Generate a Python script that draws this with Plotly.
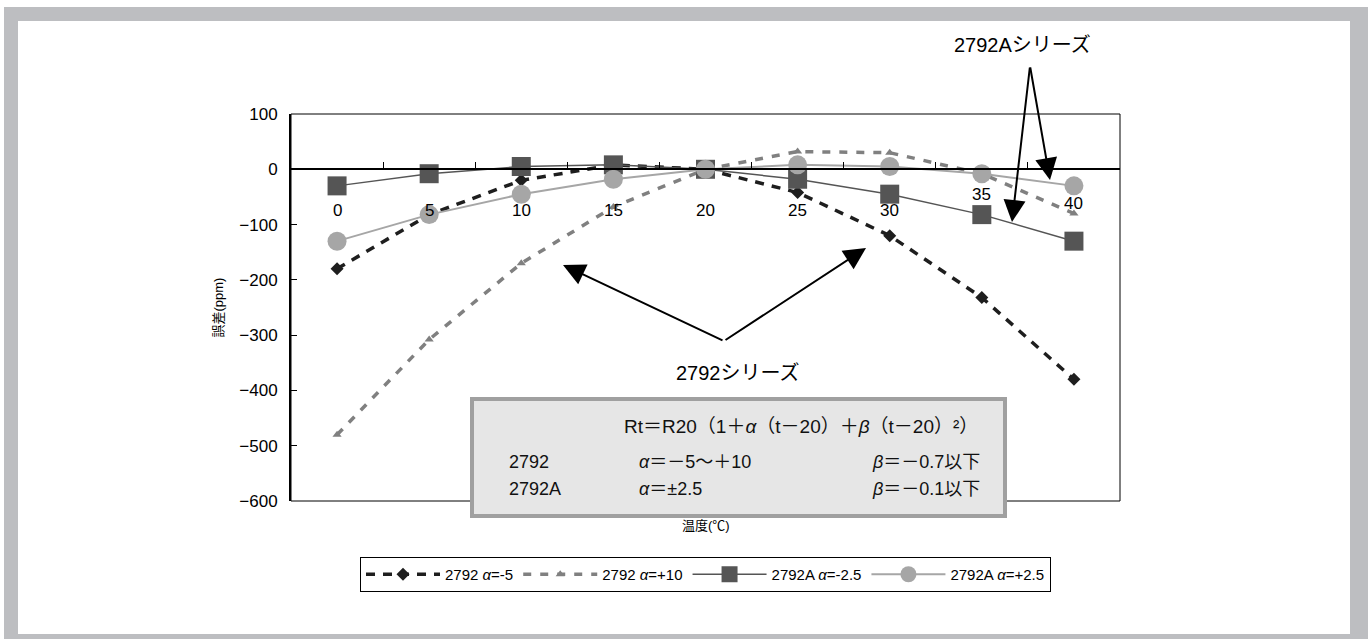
import plotly.graph_objects as go

# ---- data ----
temps = ["0", "5", "10", "15", "20", "25", "30", "35", "40"]
s2792_m5 = [-180, -82, -20, 8, 0, -42, -120, -232, -380]
s2792_p10 = [-480, -308, -170, -68, 0, 32, 30, -8, -80]
s2792A_m25 = [-30, -8, 5, 8, 0, -18, -45, -82, -130]
s2792A_p25 = [-130, -82, -45, -18, 0, 8, 5, -8, -30]
y_tickvals = [100, 0, -100, -200, -300, -400, -500, -600]
series_names = ["2792 <i>α</i>=-5", "2792 <i>α</i>=+10",
                "2792A <i>α</i>=-2.5", "2792A <i>α</i>=+2.5"]

FONT = "Liberation Sans, Arial, Noto Sans CJK JP, sans-serif"
W, H = 1368, 639
L, R, T, B = 291, 1120, 114, 501   # plot area in pixels


def px(x):
    return (x - L) / (R - L)


def py(y):
    return (B - y) / (B - T)


fig = go.Figure()
fig.add_trace(go.Scatter(
    x=temps, y=s2792_m5, name=series_names[0], mode="lines+markers",
    line=dict(color="#1e1e1e", width=3.5, dash="9px,8px"),
    marker=dict(symbol="diamond", size=10, color="#1e1e1e")))
fig.add_trace(go.Scatter(
    x=temps, y=s2792_p10, name=series_names[1], mode="lines+markers",
    line=dict(color="#808080", width=3.5, dash="8px,9px"),
    marker=dict(symbol="triangle-up", size=8, color="#808080")))
fig.add_trace(go.Scatter(
    x=temps, y=s2792A_m25, name=series_names[2], mode="lines+markers",
    line=dict(color="#555555", width=1.5),
    marker=dict(symbol="square", size=19, color="#555555")))
fig.add_trace(go.Scatter(
    x=temps, y=s2792A_p25, name=series_names[3], mode="lines+markers",
    line=dict(color="#a6a6a6", width=2),
    marker=dict(symbol="circle", size=19, color="#a6a6a6")))

annotations = []
# x tick labels (placed under the zero line like the reference)
label_shift = {"35": -25, "40": -34}
for i, t in enumerate(temps):
    annotations.append(dict(x=i, y=0, xref="x", yref="y", text=t, showarrow=False,
                            xanchor="center", yanchor="middle",
                            yshift=label_shift.get(t, -41),
                            font=dict(size=17, color="black", family=FONT)))

# axis titles
annotations.append(dict(x=px(218), y=0.5, xref="paper", yref="paper", text="誤差(ppm)",
                        textangle=-90, showarrow=False, xanchor="center", yanchor="middle",
                        font=dict(size=13, family=FONT, color="black")))
annotations.append(dict(x=0.5, y=py(525), xref="paper", yref="paper", text="温度(℃)",
                        showarrow=False, xanchor="center", yanchor="middle",
                        font=dict(size=13, family=FONT, color="black")))

# series labels with arrows
annotations.append(dict(x=px(738), y=py(373), xref="paper", yref="paper",
                        text="2792シリーズ", showarrow=False, xanchor="center", yanchor="middle",
                        font=dict(size=20, family=FONT, color="black")))
annotations.append(dict(x=px(1022), y=py(45), xref="paper", yref="paper",
                        text="2792Aシリーズ", showarrow=False, xanchor="center", yanchor="middle",
                        font=dict(size=20, family=FONT, color="black")))
arrow_defs = [((563, 265), (724, 341)), ((866, 248), (724, 341)),
              ((1012, 222), (1030, 66)), ((1050, 180), (1030, 66))]
for (tx, ty), (sx, sy) in arrow_defs:
    annotations.append(dict(x=px(tx), y=py(ty), xref="paper", yref="paper", text="",
                            showarrow=True, ax=sx - tx, ay=sy - ty, arrowhead=2,
                            arrowsize=2.2, arrowwidth=2, arrowcolor="black", standoff=0))

# formula box text
box_lines = [
    (622, 426, "Rt＝R20（1＋<i>α</i>（t－20）＋<i>β</i>（t－20）²）", 19),
    (507, 462, "2792", 18), (637, 462, "<i>α</i>＝－5〜＋10", 18), (870, 462, "<i>β</i>＝－0.7以下", 18),
    (507, 489, "2792A", 18), (637, 489, "<i>α</i>＝±2.5", 18), (870, 489, "<i>β</i>＝－0.1以下", 18),
]
for x0, y0, txt, fs in box_lines:
    annotations.append(dict(x=px(x0), y=py(y0), xref="paper", yref="paper", text=txt,
                            xanchor="left", yanchor="middle", showarrow=False,
                            font=dict(size=fs, family=FONT, color="#111111")))

shapes = [
    # outer gray frame
    dict(type="rect", xref="paper", yref="paper", x0=px(4), x1=px(1372), y0=py(643), y1=py(7),
         fillcolor="#bdbec1", line=dict(width=0), layer="below"),
    dict(type="rect", xref="paper", yref="paper", x0=px(18), x1=px(1350), y0=py(634), y1=py(21),
         fillcolor="white", line=dict(width=0), layer="below"),
    # plot frame
    dict(type="rect", xref="paper", yref="paper", x0=0, x1=1, y0=0, y1=1,
         line=dict(color="black", width=1), layer="above"),
    # formula box
    dict(type="rect", xref="paper", yref="paper", x0=px(472), x1=px(1005), y0=py(516), y1=py(399),
         fillcolor="#e6e6e6", line=dict(color="#a0a0a0", width=4), layer="above"),
]

fig.update_layout(
    width=W, height=H,
    margin=dict(l=L, r=W - R, t=T, b=H - B, pad=0),
    paper_bgcolor="white", plot_bgcolor="white",
    font=dict(family=FONT, color="black"),
    showlegend=True,
    legend=dict(orientation="h", x=0.5, xanchor="center", y=py(557), yanchor="top",
                bordercolor="black", borderwidth=1, bgcolor="white",
                font=dict(size=15, family=FONT), itemwidth=74),
    xaxis=dict(type="category", categoryorder="array", categoryarray=temps,
               range=[-0.5, 8.5], anchor="free", position=6 / 7,
               showline=True, linecolor="black", linewidth=1.5,
               ticks="inside", tickson="boundaries", ticklen=7, tickcolor="black",
               showticklabels=False, showgrid=False, zeroline=False, fixedrange=True),
    yaxis=dict(range=[-600, 100], tickvals=y_tickvals, showline=True, linecolor="black",
               linewidth=2, ticks="inside", ticklen=6, tickcolor="black",
               tickfont=dict(size=17, family=FONT), ticklabelstandoff=8,
               showgrid=False, zeroline=False, fixedrange=True),
    annotations=annotations, shapes=shapes,
)

fig.write_html(
    "out.html",
    config={"displayModeBar": False},
    post_script="document.body.style.margin='0px';"
                "document.documentElement.style.overflow='hidden';",
)
